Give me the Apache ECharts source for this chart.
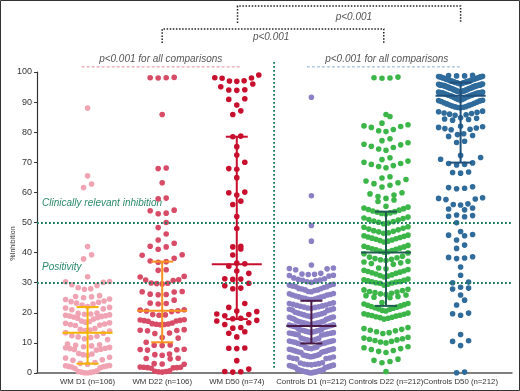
<!DOCTYPE html>
<html>
<head>
<meta charset="utf-8">
<script src="https://cdn.jsdelivr.net/npm/echarts@6/dist/echarts.min.js"></script>
<style>
  html, body { margin: 0; padding: 0; background: #fff; }
  #chart { width: 520px; height: 391px; }
</style>
</head>
<body>
<div id="chart"></div>
<script>
// groups on the x axis
const groups = ['WM D1 (n=106)', 'WM D22 (n=106)', 'WM D50 (n=74)',
  'Controls D1 (n=212)', 'Controls D22 (n=212)', 'Controls D50 (n=212)'];

// % inhibition per patient
const wmD1 = [88.0, 65.5, 62.8, 61.6, 42.0, 39.3, 37.9, 32.0,
  30.4, 30.3, 30.1, 29.3, 29.1, 28.3, 28.0, 27.8,
  25.7, 25.4, 25.3, 25.0, 24.6, 24.4, 23.9, 23.7, 23.5, 23.2, 22.9,
  22.6, 22.1, 21.8, 21.6, 21.3, 21.0,
  19.9, 19.8, 19.6, 19.5, 19.3, 19.2, 19.0, 18.9, 18.8, 18.6, 18.4, 18.2, 17.9,
  17.3, 17.1, 16.9, 16.7, 16.5, 16.3, 16.1, 15.9, 15.8,
  14.8, 14.5, 14.3, 14.1, 13.9, 13.4, 13.2,
  12.4, 12.2, 12.0, 11.8, 11.4, 11.1,
  9.6, 9.4, 9.2, 9.0,
  8.7, 8.5, 8.4, 8.2, 8.1, 7.9, 7.8, 7.6,
  6.5, 6.3, 6.1, 5.9, 5.2, 5.0,
  4.4, 4.2, 3.5, 3.2, 2.9,
  2.5, 2.4, 2.3, 2.2, 2.1, 2.0, 1.7, 1.5,
  0.7, 0.5, 0.4, 0.3, 0.2, 0.1, 0.0];
const wmD22 = [98.2, 98.1, 98.1, 98.0, 85.9, 68.1, 67.9, 63.2, 58.1, 57.9,
  54.1, 53.9, 53.1, 52.9, 50.0, 48.3, 46.2, 44.2, 43.1, 42.1, 41.9, 41.1,
  39.3, 39.1, 38.1, 37.2, 37.0, 36.8, 34.3, 34.1, 32.1, 31.9, 31.0, 30.9, 30.7,
  29.9, 29.8, 29.7, 29.6, 27.1, 27.0, 26.9, 26.2, 26.1, 26.0, 24.2, 23.2, 23.1, 22.9,
  21.0, 20.9, 20.7, 20.6, 20.4, 19.4, 19.3, 19.2,
  17.7, 17.6, 17.5, 17.4, 17.3, 17.2, 16.6, 16.4, 16.3, 16.2, 16.1, 16.0,
  14.4, 14.2, 14.1, 14.0, 13.3, 13.1, 11.8, 11.6, 10.2,
  9.3, 9.2, 9.1, 7.9, 7.8, 7.7, 7.6, 6.3, 6.1, 5.9, 4.9, 4.8, 4.7,
  3.1, 3.0, 2.9, 2.0, 1.9, 1.9, 1.8, 1.8, 1.7, 1.6,
  0.7, 0.6, 0.5, 0.4, 0.3];
const wmD50 = [99.0, 98.1, 98.0, 97.9, 97.1, 97.0, 96.9, 96.0, 95.1, 94.1, 94.0, 93.9, 91.1, 90.9, 89.0, 87.1, 85.9,
  78.7, 78.5, 75.2, 72.4, 70.0, 67.9, 67.7, 64.9, 60.1, 59.9, 59.1, 57.1, 56.0, 52.0, 48.0,
  42.1, 41.9, 41.2, 39.2, 36.5, 36.3, 35.5, 33.9, 33.1, 31.3, 31.2, 31.1, 29.8, 29.0, 28.2, 28.0,
  23.1, 21.8, 20.6, 20.4, 19.6, 19.4, 19.0, 18.2, 18.0, 17.5, 17.3, 16.7, 16.1, 15.1, 14.9, 13.7, 13.2, 12.0,
  8.3, 8.2, 8.1, 4.1, 1.3, 0.5, 0.4, 0.3];
const ctrlD1 = [91.6, 58.9, 49.0, 43.8, 35.9, 34.9, 34.6, 34.3, 34.7, 33.1, 32.7, 32.4, 32.8, 32.5, 32.2, 32.9,
  31.6, 31.3, 31.1, 30.9, 30.8, 30.6, 30.3, 30.1,
  29.5, 29.2, 29.2, 28.9, 28.7, 28.7, 28.4, 28.1, 28.0, 27.9, 27.6, 27.6, 27.4, 27.1, 27.0,
  26.4, 26.3, 26.1, 25.9, 25.9, 25.6, 25.5, 25.3, 25.2, 25.0, 24.9, 24.8, 24.6, 24.5, 24.4,
  23.3, 23.1, 23.0, 22.8, 22.6, 22.5, 22.3, 22.2, 22.0, 21.9, 21.8, 21.6, 21.5, 21.3, 21.2, 21.0, 20.9, 20.8,
  20.2, 20.0, 19.9, 19.7, 19.6, 19.4, 19.3, 19.2, 19.0, 18.9, 18.8, 18.6, 18.5, 18.4, 18.2, 18.1, 17.9, 17.8,
  17.4, 17.3, 17.1, 17.0, 16.9, 16.8, 16.7, 16.6, 16.5, 16.4, 16.3, 16.2, 16.1, 16.0, 15.9, 15.8, 15.7, 15.6, 15.5, 15.4, 15.3, 15.2,
  14.6, 14.5, 14.3, 14.2, 14.1, 14.0, 13.9, 13.8, 13.7, 13.6, 13.5, 13.4, 13.3, 13.2, 13.1, 13.0, 12.9, 12.8, 12.7, 12.6,
  11.6, 11.5, 11.3, 11.2, 11.0, 10.9, 10.8, 10.7, 10.6, 10.5, 10.4, 10.3, 10.2, 10.0, 9.9, 9.8, 9.6, 9.5, 9.4,
  8.6, 8.5, 8.4, 8.2, 8.1, 8.0, 7.9, 7.8, 7.7, 7.6, 7.5, 7.3, 7.2, 7.1, 7.0, 6.9, 6.8,
  6.2, 6.0, 5.9, 5.8, 5.7, 5.6, 5.5, 5.4, 5.3, 5.2, 5.0, 4.9, 4.8, 4.7,
  3.4, 3.3, 3.1, 3.0, 2.9, 2.8, 2.7, 2.6, 2.5, 2.4, 2.3, 2.2, 2.1, 2.0, 1.9, 1.8,
  1.2, 1.1, 1.0, 0.9, 0.8, 0.7, 0.6, 0.5, 0.4, 0.3, 0.3, 0.2, 0.1, 0.0];
const ctrlD22 = [98.3, 98.1, 97.9, 98.0, 85.9, 85.2,
  83.0, 82.5, 82.1, 81.6, 81.9, 80.9, 80.5, 80.2,
  77.8, 77.2, 76.5, 76.0, 75.8, 75.3, 74.9, 74.4, 74.0,
  71.5, 70.9, 70.4, 70.0, 69.6, 69.3, 68.9, 68.6, 68.2,
  65.2, 64.8, 64.3, 63.8, 63.2, 62.9, 62.4, 61.8,
  59.9, 59.5, 59.1, 58.6, 58.0, 57.5, 57.0,
  55.4, 55.1, 54.8, 54.6, 54.3, 54.1, 53.8, 53.6, 53.4, 53.2, 53.0, 52.8,
  51.8, 51.5, 51.3, 51.0, 50.8, 50.5, 50.3, 50.1, 49.8, 49.6,
  48.6, 48.4, 48.1, 47.8, 47.6, 47.3, 47.1, 46.9, 46.6, 46.4,
  45.8, 45.6, 45.4, 45.2, 45.0, 44.8, 44.6, 44.4, 44.2, 44.0, 43.8, 43.5,
  42.4, 42.1, 41.9, 41.7, 41.5, 41.3, 41.1, 40.9, 40.7, 40.5, 40.3, 40.1, 39.9, 39.6,
  38.8, 38.5, 38.3, 38.0, 37.8, 37.6, 37.4, 37.1, 36.9, 36.6, 36.4, 36.1,
  34.9, 34.6, 34.4, 34.1, 33.9, 33.7, 33.5, 33.3, 33.1, 32.9, 32.6, 32.4, 32.2, 31.9,
  31.2, 31.0, 30.8, 30.6, 30.4, 30.3, 30.2, 30.0, 29.9, 29.8, 29.5, 29.2,
  27.8, 27.6, 27.4, 27.1, 26.9, 26.7, 26.5, 26.3, 26.1, 25.9, 25.7, 25.4, 25.2, 25.0,
  23.4, 23.1, 22.9, 22.7, 22.5, 22.3, 22.1, 21.9, 21.7, 21.5, 21.3, 21.1, 20.8, 20.6,
  19.9, 19.7, 19.5, 19.3, 19.2, 19.1, 18.9, 18.7, 18.5, 18.4, 18.2, 17.9,
  15.1, 14.8, 14.5, 14.2, 14.0, 13.7, 13.4, 13.1,
  11.9, 11.6, 11.4, 11.2, 11.0, 10.8, 10.5, 10.3, 10.0,
  8.7, 8.4, 8.1, 7.8, 7.5, 7.2, 6.8,
  4.6, 4.2, 3.8, 3.4, 0.5];
const ctrlD50 = [98.9, 98.8, 98.7, 98.7, 98.6, 98.5, 98.4, 98.4, 98.3, 98.2,
  98.1, 98.0, 97.9, 97.9, 97.8, 97.7, 97.6, 97.5, 97.5, 97.4,
  97.3, 97.2, 97.1, 97.0, 96.9, 96.9, 96.8, 96.7, 96.6, 96.5,
  96.5, 96.4, 96.3, 96.2, 96.1, 96.1, 96.0, 95.9, 95.9, 95.8,
  95.8, 95.7, 95.7, 95.6, 95.6, 95.6, 95.5, 95.5, 95.5, 95.5,
  95.4, 95.3, 95.3, 95.2, 95.1, 95.1, 95.0, 94.9, 94.9, 94.8,
  94.7, 94.7, 94.6, 94.5, 94.5, 94.4, 94.3, 94.3, 94.2, 94.1,
  94.0, 94.0, 93.9, 93.9, 93.8, 93.7, 93.7, 93.6, 93.6, 93.5,
  93.5, 93.4, 93.4, 93.3, 93.3, 93.2, 93.2, 93.1, 93.1, 93.0,
  92.9, 92.8, 92.7, 92.6, 92.5, 92.4, 92.3, 92.2, 92.1, 92.0, 91.9,
  91.8, 91.6, 91.5, 91.3, 91.2, 91.0, 90.9, 90.8, 90.7, 90.6, 90.5,
  90.4, 90.2, 90.0, 89.8, 89.6, 89.4, 89.2, 89.0, 88.9, 88.7, 88.5, 88.4, 88.3, 88.2, 88.1,
  87.0, 86.8, 86.6, 86.4, 86.2, 86.0, 85.8, 85.6,
  84.8, 84.6, 84.4, 84.2, 84.0,
  82.0, 81.8, 81.6, 81.4, 81.2, 81.0, 80.8,
  79.5, 79.2, 78.9, 78.6, 77.0, 76.6, 72.3, 71.6, 71.0,
  69.8, 69.6, 69.3, 69.1, 66.8, 66.6, 66.4,
  61.9, 61.6, 61.4, 61.2, 58.2, 58.0, 57.8, 57.6,
  56.2, 56.0, 55.8, 54.8, 54.5, 54.2, 52.5, 52.3, 52.1, 51.9,
  49.9, 47.0, 46.0, 45.8, 45.6, 44.2, 42.5, 41.4,
  38.6, 38.4, 38.2, 38.0, 35.2, 32.5, 30.2, 30.0,
  28.5, 28.2, 27.9, 25.9, 24.2, 22.6, 19.9, 19.7, 19.2,
  12.8, 10.7, 10.5, 9.1, 0.3, 0.1];

// median and interquartile range drawn for each group
const medians = [13.4, 20.7, 36.1, 15.6, 40.0, 92.1];
const q1 = [3.1, 10.2, 17.9, 9.8, 22.3, 69.9];
const q3 = [21.9, 37.0, 78.5, 24.0, 53.6, 96.5];

const allValues = [wmD1, wmD22, wmD50, ctrlD1, ctrlD22, ctrlD50];
const dotColors = ['#f0a3b3', '#d84c67', '#c8102e', '#8c80c4', '#3cb549', '#2f6b9b'];
const barColors = ['#f6b300', '#f7931e', '#c8102e', '#4a1a48', '#1d5c4f', '#1f4f7a'];

const FONT = "'Liberation Sans', Arial, sans-serif";

// prism style swarm: rows by value, spread sideways (px)
function swarm(values, rowSpan, maxStep, maxHalf) {
  const sorted = values.slice().sort((a, b) => a - b);
  const out = [];
  let row = [], start = null;
  const flush = () => {
    const n = row.length;
    const step = n > 1 ? Math.min(maxStep, 2 * maxHalf / (n - 1)) : 0;
    const slots = [];
    for (let i = 0; i < n; i++) slots.push((i - (n - 1) / 2) * step);
    slots.sort((a, b) => Math.abs(a) - Math.abs(b) || a - b);
    row.forEach((v, i) => out.push([v, slots[i]]));
    row = [];
  };
  sorted.forEach(v => {
    if (start === null || v - start > rowSpan) { flush(); start = v; }
    row.push(v);
  });
  flush();
  return out;
}

const chart = echarts.init(document.getElementById('chart'));

const dotSeries = allValues.map((vals, gi) => ({
  type: 'custom',
  name: groups[gi],
  encode: { x: 0, y: 1 },
  data: swarm(vals, 2.6, 8, 22).map(d => [gi + 1, d[0], d[1]]),
  renderItem: (params, api) => {
    const p = api.coord([api.value(0), api.value(1)]);
    return {
      type: 'circle',
      shape: { cx: p[0] + api.value(2), cy: p[1], r: 2.8 },
      style: { fill: dotColors[gi] }
    };
  },
  z: 2
}));

const barSeries = {
  type: 'custom',
  encode: { x: 0, y: [1, 2, 3] },
  data: medians.map((m, i) => [i + 1, m, q1[i], q3[i]]),
  renderItem: (params, api) => {
    const x = api.value(0);
    const m = api.coord([x, api.value(1)]);
    const lo = api.coord([x, api.value(2)]);
    const hi = api.coord([x, api.value(3)]);
    const st = { stroke: barColors[params.dataIndex], lineWidth: 2 };
    return {
      type: 'group',
      children: [
        { type: 'line', shape: { x1: m[0], y1: lo[1], x2: m[0], y2: hi[1] }, style: st },
        { type: 'line', shape: { x1: m[0] - 25, y1: m[1], x2: m[0] + 25, y2: m[1] }, style: st },
        { type: 'line', shape: { x1: m[0] - 11, y1: lo[1], x2: m[0] + 11, y2: lo[1] }, style: st },
        { type: 'line', shape: { x1: m[0] - 11, y1: hi[1], x2: m[0] + 11, y2: hi[1] }, style: st }
      ]
    };
  },
  z: 5
};

// reference lines at 50% and 30%
const refSeries = {
  type: 'line',
  data: [],
  markLine: {
    silent: true,
    symbol: 'none',
    label: { show: false },
    lineStyle: { color: '#157a5c', width: 1.8, type: [1.8, 2.2] },
    data: [{ yAxis: 50 }, { yAxis: 30 }]
  }
};

chart.setOption({
  animation: false,
  grid: { left: 37, right: 8, top: 72, bottom: 18 },
  xAxis: {
    type: 'value',
    min: 0.322,
    max: 6.689,
    splitLine: { show: false },
    axisTick: { show: false },
    axisLine: { lineStyle: { color: '#555', width: 1.5 } },
    axisLabel: {
      customValues: [1, 2, 3, 4, 5, 6],
      formatter: v => groups[Math.round(v) - 1],
      hideOverlap: false,
      interval: 0,
      fontSize: 7.8, color: '#333', fontFamily: FONT, margin: 5
    }
  },
  yAxis: {
    type: 'value',
    min: 0, max: 100, interval: 10,
    splitLine: { show: false },
    axisLine: { show: true, lineStyle: { color: '#333', width: 1.2 } },
    axisTick: { show: true, length: 3, lineStyle: { color: '#333' } },
    axisLabel: { fontSize: 9, color: '#333', fontFamily: FONT, margin: 5 }
  },
  series: [refSeries, ...dotSeries, barSeries]
});

// annotations placed through the axis scales
const px = (x, y) => chart.convertToPixel({ gridIndex: 0 }, [x, y]);
const txt = (p, text, opts) => Object.assign({
  type: 'text', x: p[0], y: p[1],
  style: Object.assign({
    text: text, fontSize: 10, fontStyle: 'italic', fontFamily: FONT,
    fill: '#555', align: 'center', verticalAlign: 'middle'
  }, opts || {})
});
const seg = (a, b, stroke, width, dash) => ({
  type: 'line', shape: { x1: a[0], y1: a[1], x2: b[0], y2: b[1] },
  style: { stroke: stroke, lineWidth: width, lineDash: dash }
});
const bracket = (xa, xb, top, leg) => ({
  type: 'polyline',
  shape: { points: [px(xa, leg), px(xa, top), px(xb, top), px(xb, leg)] },
  style: { stroke: '#222', lineWidth: 1.5, lineDash: [1.5, 1.6], fill: null }
});

const yName = px(0.0, 43);
chart.setOption({
  graphic: [
    { type: 'rect', shape: { x: 0.5, y: 0.5, width: 519, height: 390 },
      style: { stroke: '#333', fill: null, lineWidth: 1 } },
    seg(px(3.5, 103.3), px(3.5, 1.7), '#157a5c', 1.8, [1.8, 2.2]),
    txt(px(0.39, 56.4), 'Clinically relevant inhibition', { align: 'left', fill: '#2a8a6a' }),
    txt(px(0.39, 35.3), 'Positivity', { align: 'left', fill: '#2a8a6a' }),
    txt(px(1.98, 104.2), 'p<0.001 for all comparisons'),
    seg(px(0.92, 101.7), px(3.04, 101.7), '#e8899b', 1, [3, 2]),
    txt(px(5.01, 104.2), 'p<0.001 for all comparisons'),
    seg(px(3.94, 101.7), px(6.02, 101.7), '#8aaed0', 1, [3, 2]),
    bracket(2, 4.97, 114.3, 109.6),
    txt(px(3.46, 111.6), 'p<0.001'),
    bracket(3.01, 6, 121.9, 116.3),
    txt(px(4.57, 118.3), 'p<0.001'),
    { type: 'text', x: yName[0], y: yName[1], rotation: Math.PI / 2,
      style: { text: '%Inhibition', fontSize: 7, fontFamily: FONT, fill: '#333',
        align: 'center', verticalAlign: 'middle' } }
  ]
});
</script>
</body>
</html>
